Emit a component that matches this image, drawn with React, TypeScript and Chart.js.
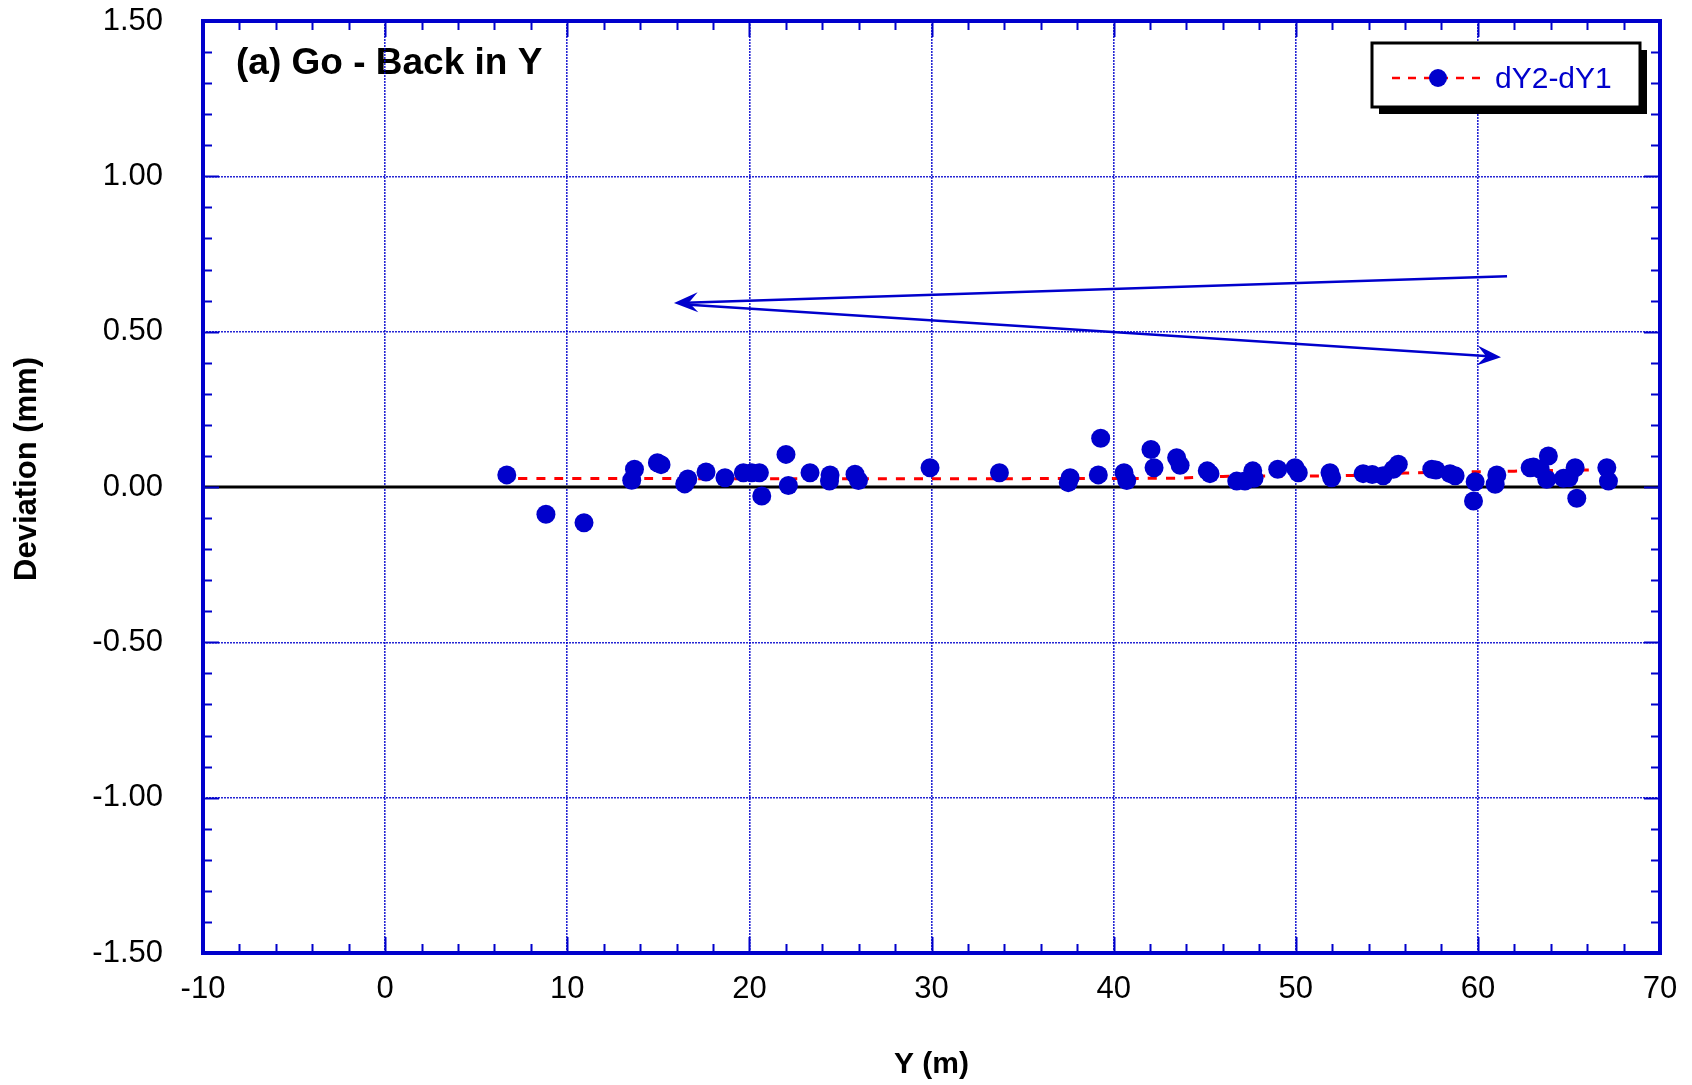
import React, { useEffect, useRef } from "react";
import { Chart, registerables } from "chart.js";

Chart.register(...registerables);

// ---- data ----
const chartTitle = "(a) Go - Back in Y";
const seriesLabel = "dY2-dY1";
const xAxisTitle = "Y (m)";
const yAxisTitle = "Deviation (mm)";

const deviationX = [
  6.68, 8.83, 10.92, 13.54, 13.69, 14.95, 15.15, 16.45, 16.62, 17.62, 18.66, 19.67, 20.13, 20.55, 20.68,
  22.01, 22.14, 23.33, 24.4, 24.43, 25.8, 25.99, 29.92, 33.73, 37.51, 37.61, 39.16, 39.29, 40.57, 40.72,
  42.05, 42.22, 43.46, 43.65, 45.14, 45.29, 46.76, 47.21, 47.64, 47.71, 49.01, 49.96, 50.14, 51.88, 51.97,
  53.7, 54.2, 54.8, 55.36, 55.63, 57.47, 57.7, 58.47, 58.75, 59.76, 59.85, 60.95, 61.04, 62.87, 63.05,
  63.42, 63.78, 63.87, 64.7, 65.0, 65.34, 65.43, 67.08, 67.17,
];
const deviationY = [
  0.039, -0.088, -0.115, 0.022, 0.057, 0.078, 0.072, 0.01, 0.026, 0.048, 0.03, 0.046, 0.046, 0.046, -0.029,
  0.105, 0.005, 0.046, 0.019, 0.039, 0.041, 0.021, 0.062, 0.046, 0.014, 0.03, 0.039, 0.157, 0.046, 0.021,
  0.121, 0.062, 0.094, 0.07, 0.052, 0.043, 0.019, 0.019, 0.052, 0.028, 0.057, 0.062, 0.046, 0.046, 0.03,
  0.043, 0.04, 0.036, 0.057, 0.073, 0.057, 0.055, 0.043, 0.036, -0.045, 0.017, 0.009, 0.039, 0.062, 0.064,
  0.057, 0.025, 0.1, 0.028, 0.03, 0.062, -0.036, 0.062, 0.019,
];

const trendX = [7.3, 43, 46, 53, 56, 62, 66.3];
const trendY = [0.027, 0.028, 0.034, 0.037, 0.045, 0.051, 0.055];

const xTicks = [-10, 0, 10, 20, 30, 40, 50, 60, 70];
const yTicks = [-1.5, -1.0, -0.5, 0, 0.5, 1.0, 1.5];
const xMinorStep = 2;
const yMinorStep = 0.1;

// annotation arrows (data units): start -> tip
const arrowStartX = [61.6, 16.7];
const arrowStartY = [0.678, 0.587];
const arrowEndX = [15.86, 61.27];
const arrowEndY = [0.592, 0.418];

// ---- styles ----
const BLUE = "#0000cc";
const FONT = "'Liberation Sans', Arial, Helvetica, sans-serif";

function drawArrowHead(ctx: CanvasRenderingContext2D, x0: number, y0: number, x1: number, y1: number) {
  const ang = Math.atan2(y1 - y0, x1 - x0);
  const len = 24;
  const half = 10;
  const notch = 15;
  const cos = Math.cos(ang);
  const sin = Math.sin(ang);
  const bx = x1 - len * cos;
  const by = y1 - len * sin;
  ctx.beginPath();
  ctx.moveTo(x1, y1);
  ctx.lineTo(bx - half * sin, by + half * cos);
  ctx.lineTo(x1 - notch * cos, y1 - notch * sin);
  ctx.lineTo(bx + half * sin, by - half * cos);
  ctx.closePath();
  ctx.fill();
}

const decorPlugin = {
  id: "decor",
  beforeDraw(chart: any) {
    const { ctx, chartArea } = chart;
    ctx.save();
    ctx.fillStyle = "#000";
    ctx.font = `bold 37px ${FONT}`;
    ctx.textBaseline = "alphabetic";
    ctx.textAlign = "left";
    ctx.fillText(chartTitle, chartArea.left + 33, chartArea.top + 53);
    ctx.restore();
  },
  beforeDatasetsDraw(chart: any) {
    const { ctx, chartArea, scales } = chart;
    const y0 = scales.y.getPixelForValue(0);
    ctx.save();
    ctx.strokeStyle = "#000";
    ctx.lineWidth = 3;
    ctx.beginPath();
    ctx.moveTo(chartArea.left, y0);
    ctx.lineTo(chartArea.right, y0);
    ctx.stroke();
    ctx.restore();
  },
  afterDatasetsDraw(chart: any) {
    const { ctx, scales } = chart;
    const sx = scales.x;
    const sy = scales.y;
    ctx.save();
    ctx.strokeStyle = BLUE;
    ctx.fillStyle = BLUE;
    ctx.lineWidth = 2.5;
    for (let i = 0; i < arrowStartX.length; i++) {
      const x0 = sx.getPixelForValue(arrowStartX[i]);
      const y0 = sy.getPixelForValue(arrowStartY[i]);
      const x1 = sx.getPixelForValue(arrowEndX[i]);
      const y1 = sy.getPixelForValue(arrowEndY[i]);
      const ang = Math.atan2(y1 - y0, x1 - x0);
      ctx.beginPath();
      ctx.moveTo(x0, y0);
      ctx.lineTo(x1 - 12 * Math.cos(ang), y1 - 12 * Math.sin(ang));
      ctx.stroke();
      drawArrowHead(ctx, x0, y0, x1, y1);
    }
    ctx.restore();
  },
  afterDraw(chart: any) {
    const { ctx, chartArea, scales } = chart;
    const { left, right, top, bottom } = chartArea;
    const sx = scales.x;
    const sy = scales.y;
    ctx.save();
    // minor / major ticks, inward on all four sides
    ctx.strokeStyle = BLUE;
    ctx.lineWidth = 2;
    ctx.beginPath();
    const xMin = sx.min;
    const xMax = sx.max;
    const nx = Math.round((xMax - xMin) / xMinorStep);
    for (let i = 0; i <= nx; i++) {
      const v = xMin + i * xMinorStep;
      const px = Math.round(sx.getPixelForValue(v)) + 0.5;
      const major = i % 5 === 0;
      const L = major ? 16 : 9;
      ctx.moveTo(px, bottom);
      ctx.lineTo(px, bottom - L);
      ctx.moveTo(px, top);
      ctx.lineTo(px, top + L);
    }
    const yMin = sy.min;
    const yMax = sy.max;
    const ny = Math.round((yMax - yMin) / yMinorStep);
    for (let i = 0; i <= ny; i++) {
      const v = yMin + i * yMinorStep;
      const py = Math.round(sy.getPixelForValue(v)) + 0.5;
      const major = i % 5 === 0;
      const L = major ? 16 : 9;
      ctx.moveTo(left, py);
      ctx.lineTo(left + L, py);
      ctx.moveTo(right, py);
      ctx.lineTo(right - L, py);
    }
    ctx.stroke();
    // frame
    ctx.lineWidth = 4;
    ctx.strokeRect(left, top, right - left, bottom - top);

    // y-axis title
    ctx.fillStyle = "#000";
    ctx.font = `bold 31px ${FONT}`;
    ctx.textAlign = "center";
    ctx.textBaseline = "middle";
    ctx.translate(27, (top + bottom) / 2 - 18);
    ctx.rotate(-Math.PI / 2);
    ctx.fillText(yAxisTitle, 0, 0);
    ctx.setTransform(1, 0, 0, 1, 0, 0);

    // legend box
    const bx = right - 288;
    const by = top + 22;
    const bw = 268;
    const bh = 64;
    ctx.fillStyle = "#000";
    ctx.fillRect(bx + 7, by + 7, bw, bh);
    ctx.fillStyle = "#fff";
    ctx.fillRect(bx, by, bw, bh);
    ctx.strokeStyle = "#000";
    ctx.lineWidth = 3;
    ctx.strokeRect(bx, by, bw, bh);
    const ly = by + 35;
    ctx.strokeStyle = "#ff0000";
    ctx.lineWidth = 2.5;
    ctx.setLineDash([8, 8]);
    ctx.beginPath();
    ctx.moveTo(bx + 20, ly);
    ctx.lineTo(bx + 112, ly);
    ctx.stroke();
    ctx.setLineDash([]);
    ctx.fillStyle = BLUE;
    ctx.beginPath();
    ctx.arc(bx + 66, ly, 9, 0, Math.PI * 2);
    ctx.fill();
    ctx.font = `30px ${FONT}`;
    ctx.textAlign = "left";
    ctx.textBaseline = "alphabetic";
    ctx.fillText(seriesLabel, bx + 123, ly + 10);
    ctx.restore();
  },
};

export default function App() {
  const canvasRef = useRef<HTMLCanvasElement | null>(null);

  useEffect(() => {
    const canvas = canvasRef.current;
    if (!canvas) return;
    const points = deviationX.map((x, i) => ({ x, y: deviationY[i] }));
    const trend = trendX.map((x, i) => ({ x, y: trendY[i] }));
    const chart = new Chart(canvas, {
      type: "scatter",
      data: {
        datasets: [
          {
            label: seriesLabel,
            data: points,
            showLine: false,
            pointRadius: 9.5,
            pointHoverRadius: 9.5,
            pointBackgroundColor: BLUE,
            pointBorderWidth: 0,
            backgroundColor: BLUE,
            borderColor: BLUE,
          },
          {
            label: seriesLabel + " trend",
            data: trend,
            showLine: true,
            borderColor: "#ff0000",
            borderWidth: 3,
            borderDash: [9, 9],
            pointRadius: 0,
            tension: 0.4,
            fill: false,
          },
        ],
      },
      options: {
        animation: false,
        responsive: false,
        devicePixelRatio: 1,
        layout: { padding: { left: 0, right: 32, top: 21, bottom: 0 } },
        plugins: {
          legend: { display: false },
          tooltip: { enabled: false },
        },
        scales: {
          x: {
            type: "linear",
            min: -10,
            max: 70,
            afterBuildTicks: (scale: any) => {
              scale.ticks = xTicks.map((v) => ({ value: v }));
            },
            afterFit: (scale: any) => {
              scale.height = 132;
              scale.paddingLeft = 0;
              scale.paddingRight = 0;
            },
            ticks: {
              color: "#000",
              font: { family: FONT, size: 31 },
              padding: 18,
              maxRotation: 0,
              callback: (v: any) => String(v),
            },
            grid: {
              color: "rgba(0,0,204,0.85)",
              lineWidth: 1.6,
              drawTicks: false,
            },
            border: { display: false, dash: [2, 1] },
            title: {
              display: true,
              text: xAxisTitle,
              color: "#000",
              font: { family: FONT, size: 30, weight: "bold" },
              padding: { top: 0, bottom: 2 },
            },
          },
          y: {
            type: "linear",
            min: -1.5,
            max: 1.5,
            afterBuildTicks: (scale: any) => {
              scale.ticks = yTicks.map((v) => ({ value: v }));
            },
            afterFit: (scale: any) => {
              scale.width = 203;
              scale.paddingTop = 0;
              scale.paddingBottom = 0;
            },
            ticks: {
              color: "#000",
              font: { family: FONT, size: 31 },
              padding: 40,
              callback: (v: any) => Number(v).toFixed(2),
            },
            grid: {
              color: "rgba(0,0,204,0.85)",
              lineWidth: 1.6,
              drawTicks: false,
            },
            border: { display: false, dash: [2, 1] },
          },
        },
      },
      plugins: [decorPlugin],
    });
    return () => chart.destroy();
  }, []);

  return (
    <div style={{ position: "fixed", left: 0, top: 0, width: 1692, height: 1085, background: "#fff" }}>
      <canvas ref={canvasRef} width={1692} height={1085} style={{ display: "block", width: 1692, height: 1085 }} />
    </div>
  );
}
